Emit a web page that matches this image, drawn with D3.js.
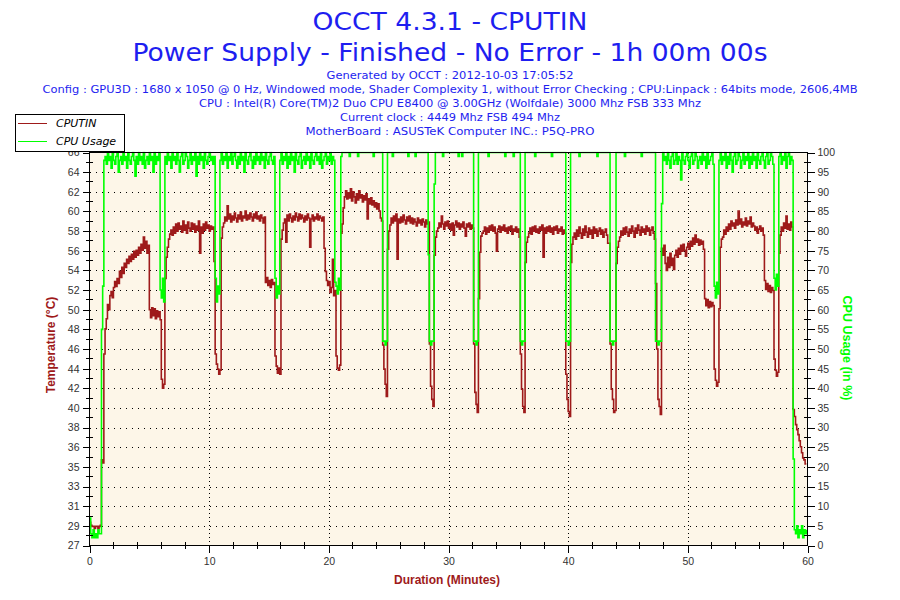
<!DOCTYPE html>
<html><head><meta charset="utf-8">
<script src="https://cdn.jsdelivr.net/npm/d3@7"></script>
<style>body{margin:0;background:#fff}</style>
</head><body><svg id="c" width="900" height="600"></svg>
<script>
// one sample every 0.1 minute
const SAMPLE_MINUTES = 0.1;

const cputinTemp = [
29.3,29.0,28.9,28.9,28.7,28.9,28.9,28.7,28.9,29.0,
35.5,35.2,46.0,48.5,49.5,50.9,50.4,51.8,52.2,51.6,
52.6,53.2,52.7,53.5,53.0,54.2,53.6,54.6,54.0,55.0,
54.6,55.4,55.0,55.7,55.2,55.9,55.4,56.2,55.6,56.3,
55.8,56.6,56.0,56.9,56.3,57.6,56.5,57.2,56.0,56.8,
50.4,49.6,50.6,49.8,50.5,49.5,50.3,49.7,50.2,49.4,
43.5,42.6,43.0,53.5,55.6,56.6,57.4,57.9,58.3,57.8,
58.6,58.0,58.9,58.2,59.0,58.4,58.7,58.1,59.2,58.3,
58.8,58.0,59.1,58.5,58.2,59.0,58.4,58.9,58.1,58.7,
58.3,59.2,56.0,58.6,58.0,58.9,58.3,59.1,58.5,58.8,
58.2,58.7,58.4,58.6,55.2,46.0,45.0,44.5,44.0,44.4,
57.5,58.6,59.0,59.6,59.2,60.7,59.4,59.9,59.1,59.7,
59.3,60.0,59.5,59.1,59.8,59.4,60.1,59.2,59.7,59.5,
60.2,59.3,59.8,59.4,60.0,59.6,59.2,59.9,59.5,60.1,
59.4,59.7,59.2,59.8,59.5,59.0,59.6,53.1,53.6,52.8,
53.3,52.6,53.4,52.9,53.1,45.8,44.8,44.1,44.6,44.0,
57.4,58.3,59.0,59.4,57.1,59.8,59.2,59.9,59.5,59.1,
59.7,59.3,60.0,59.6,59.2,59.9,59.4,59.8,59.5,59.1,
59.7,59.3,59.9,59.5,56.6,59.4,59.8,59.2,59.6,59.4,
59.9,59.3,59.7,59.5,59.2,59.6,56.5,54.2,53.3,52.8,
53.2,52.1,52.6,55.4,51.8,52.3,45.8,44.6,44.4,44.9,
58.0,58.9,60.5,61.6,62.2,61.4,62.0,61.5,62.4,61.2,
62.1,61.6,61.0,61.9,61.3,62.2,61.5,61.8,61.1,61.7,
61.3,61.9,59.4,61.4,60.9,61.5,60.8,61.2,60.6,61.0,
60.4,60.9,60.2,59.5,59.2,46.9,44.5,43.0,41.8,56.4,
58.2,58.8,59.5,59.0,59.7,59.2,59.9,55.4,59.4,59.0,
59.6,59.1,59.8,59.3,58.9,59.6,59.2,59.7,59.0,59.5,
58.9,59.4,59.1,58.7,59.5,59.0,59.3,58.8,59.4,59.1,
58.6,59.3,58.9,59.1,47.0,42.8,41.5,40.8,55.8,57.6,
58.2,58.5,59.0,58.6,59.7,58.9,58.4,59.1,58.7,59.2,
58.5,58.9,58.3,59.0,57.8,58.8,59.2,58.6,59.0,58.4,
58.9,58.6,59.1,58.5,57.7,58.9,58.6,59.0,58.4,58.8,
58.5,47.0,42.2,41.0,40.2,51.5,56.1,57.7,58.0,58.2,
58.6,57.9,58.5,58.1,58.7,58.3,58.8,58.2,58.6,58.0,
56.2,58.4,58.7,58.1,58.6,58.3,58.8,58.2,58.5,58.0,
58.6,58.3,58.7,57.9,58.4,58.2,58.6,58.1,58.4,57.6,
46.0,42.5,40.8,40.2,55.1,57.1,57.6,58.0,58.5,57.9,
58.6,58.2,58.7,58.1,58.4,58.0,58.6,58.3,58.8,55.6,
58.5,58.0,58.6,58.2,58.7,58.1,58.5,57.9,58.6,58.3,
58.7,58.0,58.4,58.2,58.6,57.9,58.3,58.0,44.0,41.5,
40.3,39.8,55.1,56.9,57.6,58.0,57.4,58.3,57.7,58.6,
58.0,57.5,58.4,57.8,58.7,58.1,57.6,58.5,57.9,58.3,
57.5,58.6,58.0,58.4,57.7,58.2,58.5,57.9,58.3,57.6,
58.1,58.4,57.8,57.0,57.0,47.0,42.5,41.5,40.2,40.4,
55.0,56.6,57.2,57.6,58.2,57.8,58.5,57.9,58.6,58.1,
57.7,58.4,58.0,58.7,58.2,57.6,58.5,58.0,58.8,58.3,
57.8,58.6,58.1,58.4,57.9,58.7,58.2,58.5,57.8,58.3,
58.6,58.0,57.4,53.0,46.5,41.5,40.8,40.0,56.5,55.8,
56.8,55.0,54.3,55.6,54.6,56.0,54.8,55.5,54.4,55.8,
56.3,55.6,56.5,55.9,56.8,56.2,56.9,56.3,55.7,56.6,
57.0,56.4,57.2,56.7,57.5,56.9,57.8,57.1,57.4,56.8,
57.3,56.9,57.2,56.4,51.5,50.8,51.4,50.6,51.2,50.7,
51.1,50.8,44.5,43.4,42.8,43.2,50.5,56.6,57.4,57.6,
58.3,57.9,58.6,58.2,58.9,58.4,59.2,58.7,59.0,58.5,
59.3,58.8,60.2,58.9,59.4,58.6,59.1,58.8,59.5,58.7,
59.2,58.9,59.6,58.6,59.0,58.7,58.3,58.6,58.0,58.4,
58.7,58.2,58.5,57.8,53.3,52.4,53.0,52.2,52.8,52.1,
52.6,52.3,45.5,44.4,43.8,44.2,56.0,57.8,58.6,58.2,
59.0,58.5,59.7,58.4,58.9,58.3,59.1,58.6,40.5,39.8,
39.0,38.5,38.0,37.4,36.8,36.2,35.7,35.5,35.1,35.1
];

const cpuUsage = [
7,3,2,4,2,3,2,4,3,3,
55,66,98,99,97,100,98,99,96,100,
98,97,99,100,95,98,99,97,100,98,
99,96,100,98,97,99,100,98,94,99,
97,100,98,99,97,100,96,98,99,97,
100,98,99,95,100,97,99,98,100,65,
63,68,62,99,97,100,98,99,96,100,
98,99,97,100,98,95,99,100,97,98,
100,99,96,98,100,97,99,98,100,94,
99,97,100,98,99,96,100,98,97,99,
100,98,99,97,99,68,62,66,64,98,
100,97,99,98,100,96,99,98,100,97,
99,100,98,96,99,97,100,98,99,95,
100,98,97,99,100,98,96,99,97,100,
98,99,97,100,98,99,96,100,98,97,
99,100,98,97,99,68,63,66,64,98,
100,97,99,98,100,96,99,97,100,98,
99,95,100,98,97,99,100,96,98,99,
97,100,98,99,96,100,98,97,99,100,
98,99,97,100,96,98,99,100,97,99,
98,100,97,99,98,67,66,64,68,65,
99,100,100,100,100,100,100,99,100,100,
100,100,100,100,99,100,100,100,100,100,
100,100,100,100,100,100,100,99,100,100,
100,100,100,100,100,52,52,51,52,100,
100,100,100,99,100,100,100,100,100,100,
100,100,100,100,100,100,99,100,100,100,
100,100,99,100,100,100,100,100,100,100,
100,100,100,74,52,51,52,52,92,100,
100,100,100,100,100,99,100,100,100,100,
100,100,100,100,100,100,100,100,99,100,
100,99,100,100,100,100,100,100,100,100,
100,52,52,51,52,100,100,100,100,100,
100,100,100,99,100,100,100,100,100,100,
100,100,100,100,100,100,100,99,100,100,
100,100,100,100,99,100,100,100,100,100,
52,51,52,52,100,100,100,100,100,100,
100,100,99,100,100,100,100,100,100,100,
100,100,100,100,100,100,99,100,100,100,
100,100,100,100,100,100,100,100,52,52,
51,52,100,100,100,100,100,100,100,99,
100,100,100,100,100,100,100,100,100,100,
100,100,100,100,99,100,100,100,100,100,
100,100,100,100,100,52,52,51,52,52,
100,100,100,100,100,100,100,99,100,100,
100,100,100,100,100,100,100,100,100,100,
100,99,100,100,100,100,100,100,100,100,
100,100,100,52,52,51,52,52,87,100,
98,99,97,100,98,96,99,100,97,98,
100,97,99,98,93,100,98,97,99,100,
98,96,99,100,97,98,100,99,96,98,
99,97,100,98,99,96,100,97,98,99,
100,97,66,63,67,64,98,100,97,99,
98,100,96,99,97,100,98,95,99,100,
97,98,100,99,96,98,100,97,99,98,
100,96,99,97,100,98,99,96,100,98,
97,99,100,98,96,99,100,97,98,100,
99,97,68,65,69,66,99,100,97,99,
98,100,96,99,100,97,99,98,22,4,
3,5,2,4,3,5,2,4,3,4
];

const tempTickLabels = [27,29,31,33,35,36,38,40,42,44,46,48,50,52,54,56,58,60,62,64,66];
const usageTicks = [0,5,10,15,20,25,30,35,40,45,50,55,60,65,70,75,80,85,90,95,100];
const minuteTicks = [0,10,20,30,40,50,60];
const minuteMinorTicks = [2,4,6,8,12,14,16,18,22,24,26,28,32,34,36,38,42,44,46,48,52,54,56,58];

const titleLines = ["OCCT 4.3.1 - CPUTIN", "Power Supply - Finished - No Error - 1h 00m 00s"];
const infoLines = [
  "Generated by OCCT : 2012-10-03 17:05:52",
  "Config : GPU3D : 1680 x 1050 @ 0 Hz, Windowed mode, Shader Complexity 1, without Error Checking ; CPU:Linpack : 64bits mode, 2606,4MB",
  "CPU : Intel(R) Core(TM)2 Duo CPU E8400 @ 3.00GHz (Wolfdale) 3000 Mhz FSB 333 Mhz",
  "Current clock : 4449 Mhz FSB 494 Mhz",
  "MotherBoard : ASUSTeK Computer INC.: P5Q-PRO"
];
const seriesNames = ["CPUTIN", "CPU Usage"];

// ---------- drawing ----------
const RED = "#9e1a1a", GREEN = "#00ff00", BLUE = "#1e1ef0";
const svg = d3.select("#c");
const L = 89.5, R = 807.5, T = 152.5, B = 545.5;

const x = d3.scaleLinear().domain([0, 60]).range([L, R]);
const yPct = d3.scaleLinear().domain([0, 100]).range([B, T]);
const yTemp = d3.scaleLinear().domain([27, 66]).range([B, T]);
const tempStep = (66 - 27) / (tempTickLabels.length - 1);
const tempTickPos = tempTickLabels.map((d, i) => 27 + i * tempStep);
const tempMinorPos = tempTickLabels.slice(1).map((d, i) => 27 + (i + 0.5) * tempStep);
const pctMinor = usageTicks.slice(1).map(d => d - 2.5);

// titles
const titleW = [275, 635], titleY = [30, 61];
svg.selectAll("text.title").data(titleLines).join("text")
  .attr("class", "title").attr("x", 450).attr("y", (d, i) => titleY[i])
  .attr("text-anchor", "middle").attr("font-family", "DejaVu Sans, sans-serif")
  .attr("font-size", 25).attr("fill", BLUE)
  .attr("textLength", (d, i) => titleW[i]).attr("lengthAdjust", "spacingAndGlyphs")
  .text(d => d);
const infoW = [247, 815, 502, 220, 289];
svg.selectAll("text.info").data(infoLines).join("text")
  .attr("class", "info").attr("x", 450).attr("y", (d, i) => 79 + i * 14)
  .attr("text-anchor", "middle").attr("font-family", "DejaVu Sans, sans-serif")
  .attr("font-size", 11).attr("fill", BLUE)
  .attr("textLength", (d, i) => infoW[i]).attr("lengthAdjust", "spacingAndGlyphs")
  .text(d => d);

// plot background
svg.append("rect").attr("x", L).attr("y", T).attr("width", R - L).attr("height", B - T)
  .attr("fill", "#fdf6e8");

// grid
const gridH = svg.append("g").attr("transform", `translate(${L},0)`)
  .call(d3.axisLeft(yPct).tickValues(usageTicks.slice(1, -1)).tickSize(-(R - L)).tickFormat(""));
gridH.select(".domain").remove();
gridH.selectAll("line").attr("stroke", "#000").attr("stroke-dasharray", "1,5").attr("shape-rendering", "crispEdges");
const gridV = svg.append("g").attr("transform", `translate(0,${B})`)
  .call(d3.axisBottom(x).tickValues(minuteTicks.slice(1, -1)).tickSize(-(B - T)).tickFormat(""));
gridV.select(".domain").remove();
gridV.selectAll("line").attr("stroke", "#000").attr("stroke-dasharray", "1,3").attr("shape-rendering", "crispEdges");

// series
svg.append("clipPath").attr("id", "clip").append("rect")
  .attr("x", L).attr("y", T - 1).attr("width", R - L).attr("height", B - T + 2);
const plot = svg.append("g").attr("clip-path", "url(#clip)");
const tempLine = d3.line().curve(d3.curveStepAfter)
  .x((d, i) => x(i * SAMPLE_MINUTES)).y(d => yTemp(d));
const pctLine = d3.line().curve(d3.curveStepAfter)
  .x((d, i) => x(i * SAMPLE_MINUTES)).y(d => yPct(d));
plot.append("path").datum(cputinTemp).attr("d", tempLine).attr("fill", "none")
  .attr("stroke", RED).attr("stroke-width", 1.6);
plot.append("path").datum(cpuUsage).attr("d", pctLine).attr("fill", "none")
  .attr("stroke", GREEN).attr("stroke-width", 1.6);

// frame
svg.append("rect").attr("x", L).attr("y", T).attr("width", R - L).attr("height", B - T)
  .attr("fill", "none").attr("stroke", "#000").attr("stroke-width", 1.2).attr("shape-rendering", "crispEdges");

const tickFont = g => g.selectAll("text").attr("font-family", "Liberation Sans, Arial, sans-serif")
  .attr("font-size", 10.5).attr("fill", "#333");

// left axis
const ax1 = svg.append("g").attr("transform", `translate(${L},0)`)
  .call(d3.axisLeft(yTemp).tickValues(tempTickPos).tickFormat((d, i) => tempTickLabels[i])
    .tickSizeInner(7).tickSizeOuter(0).tickPadding(3));
ax1.select(".domain").remove();
ax1.selectAll("line").attr("shape-rendering", "crispEdges");
ax1.call(tickFont);
svg.append("g").selectAll("line").data(tempMinorPos).join("line")
  .attr("x1", L - 4).attr("x2", L + 3).attr("y1", d => yTemp(d)).attr("y2", d => yTemp(d))
  .attr("stroke", "#000").attr("shape-rendering", "crispEdges");

// right axis
const ax2 = svg.append("g").attr("transform", `translate(${R},0)`)
  .call(d3.axisRight(yPct).tickValues(usageTicks).tickSizeInner(7).tickSizeOuter(0).tickPadding(3));
ax2.select(".domain").remove();
ax2.selectAll("line").attr("shape-rendering", "crispEdges");
ax2.call(tickFont);
svg.append("g").selectAll("line").data(pctMinor).join("line")
  .attr("x1", R - 4).attr("x2", R + 3).attr("y1", d => yPct(d)).attr("y2", d => yPct(d))
  .attr("stroke", "#000").attr("shape-rendering", "crispEdges");

// bottom axis
const ax3 = svg.append("g").attr("transform", `translate(0,${B})`)
  .call(d3.axisBottom(x).tickValues(minuteTicks).tickSizeInner(7).tickSizeOuter(0).tickPadding(5));
ax3.select(".domain").remove();
ax3.selectAll("line").attr("shape-rendering", "crispEdges");
ax3.call(tickFont);
svg.append("g").selectAll("line").data(minuteMinorTicks).join("line")
  .attr("x1", d => x(d)).attr("x2", d => x(d)).attr("y1", B - 4).attr("y2", B + 3)
  .attr("stroke", "#000").attr("shape-rendering", "crispEdges");

// axis titles
const axisFont = "Liberation Sans, Arial, sans-serif";
svg.append("text").attr("transform", "translate(55,345) rotate(-90)")
  .attr("text-anchor", "middle").attr("font-family", axisFont).attr("font-weight", "bold")
  .attr("font-size", 12).attr("fill", RED).text("Temperature (°C)");
svg.append("text").attr("transform", "translate(843,348) rotate(90)")
  .attr("text-anchor", "middle").attr("font-family", axisFont).attr("font-weight", "bold")
  .attr("font-size", 12.5).attr("fill", GREEN).text("CPU Usage (in %)");
svg.append("text").attr("x", 447).attr("y", 584)
  .attr("text-anchor", "middle").attr("font-family", axisFont).attr("font-weight", "bold")
  .attr("font-size", 12).attr("fill", RED).text("Duration (Minutes)");

// legend
const lg = svg.append("g");
lg.append("rect").attr("x", 15.5).attr("y", 114.5).attr("width", 109).attr("height", 37)
  .attr("fill", "#fff").attr("stroke", "#000").attr("shape-rendering", "crispEdges");
const legColors = [RED, GREEN];
lg.selectAll("line").data(seriesNames).join("line")
  .attr("x1", 18).attr("x2", 47).attr("y1", (d, i) => 123.5 + i * 18).attr("y2", (d, i) => 123.5 + i * 18)
  .attr("stroke", (d, i) => legColors[i]).attr("shape-rendering", "crispEdges");
lg.selectAll("text").data(seriesNames).join("text")
  .attr("x", 56).attr("y", (d, i) => 127 + i * 18)
  .attr("font-family", "DejaVu Sans, sans-serif").attr("font-style", "italic")
  .attr("font-size", 11).attr("fill", "#000").text(d => d);
</script></body></html>
